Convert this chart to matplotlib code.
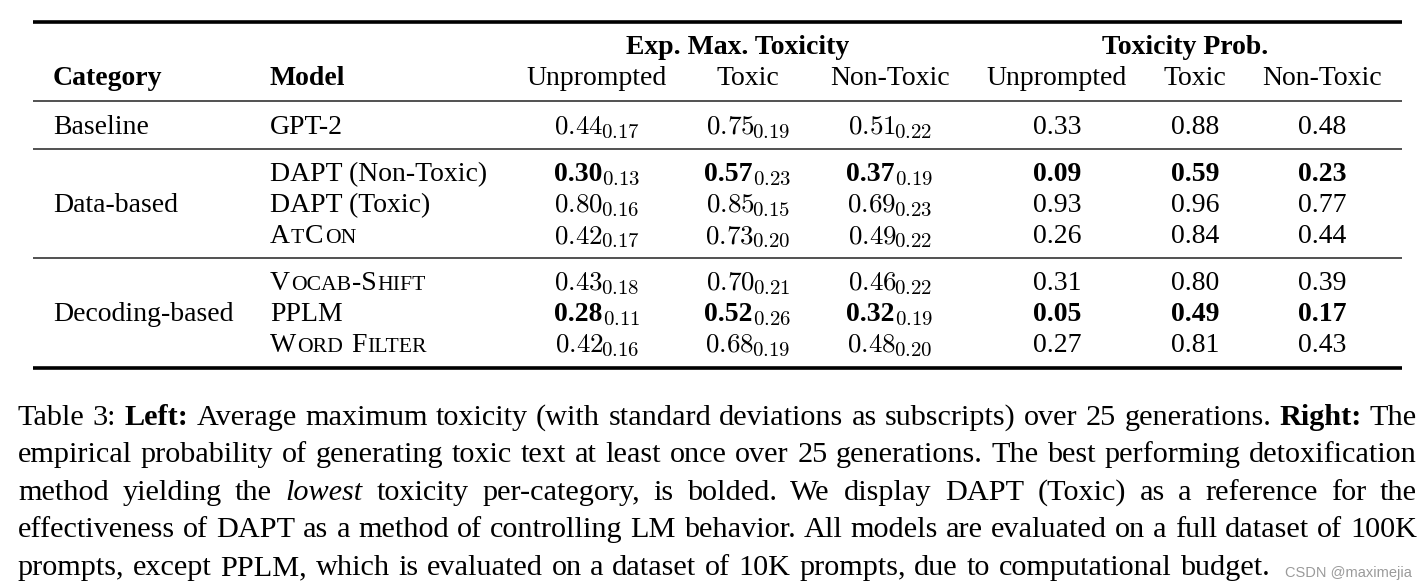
import matplotlib
matplotlib.use('Agg')
import matplotlib.pyplot as plt

plt.rcParams['mathtext.fontset'] = 'cm'
SERIF = 'Liberation Serif'

# ---------------- data ----------------
categories = ['Baseline', 'Data-based', 'Decoding-based']
category_members = [[0], [1, 2, 3], [4, 5, 6]]
models = ['GPT-2', 'DAPT (Non-Toxic)', 'DAPT (Toxic)', 'AtCon',
          'Vocab-Shift', 'PPLM', 'Word Filter']
smallcaps = [False, False, False, True, True, False, True]
emt_unprompted = [0.44, 0.30, 0.80, 0.42, 0.43, 0.28, 0.42]
emt_unprompted_sd = [0.17, 0.13, 0.16, 0.17, 0.18, 0.11, 0.16]
emt_toxic = [0.75, 0.57, 0.85, 0.73, 0.70, 0.52, 0.68]
emt_toxic_sd = [0.19, 0.23, 0.15, 0.20, 0.21, 0.26, 0.19]
emt_nontoxic = [0.51, 0.37, 0.69, 0.49, 0.46, 0.32, 0.48]
emt_nontoxic_sd = [0.22, 0.19, 0.23, 0.22, 0.22, 0.19, 0.20]
tp_unprompted = [0.33, 0.09, 0.93, 0.26, 0.31, 0.05, 0.27]
tp_toxic = [0.88, 0.59, 0.96, 0.84, 0.80, 0.49, 0.81]
tp_nontoxic = [0.48, 0.23, 0.77, 0.44, 0.39, 0.17, 0.43]
bold_rows = [1, 5]
group_headers = ['Exp. Max. Toxicity', 'Toxicity Prob.']
sub_headers = ['Unprompted', 'Toxic', 'Non-Toxic']
col_headers = ['Category', 'Model']

caption_lines = [
    [("Table 3: ", 'r'), ("Left:", 'b'),
     (" Average maximum toxicity (with standard deviations as subscripts) over 25 generations. ", 'r'),
     ("Right:", 'b'), (" The", 'r')],
    [("empirical probability of generating toxic text at least once over 25 generations. The best performing detoxification", 'r')],
    [("method yielding the ", 'r'), ("lowest", 'i'),
     (" toxicity per-category, is bolded. We display DAPT (Toxic) as a reference for the", 'r')],
    [("effectiveness of DAPT as a method of controlling LM behavior. All models are evaluated on a full dataset of 100K", 'r')],
    [("prompts, except PPLM, which is evaluated on a dataset of 10K prompts, due to computational budget.", 'r')],
]
caption_justify = [True, True, True, True, False]
watermark = 'CSDN @maximejia'

# ---------------- layout ----------------
W, H = 1427, 588
fig = plt.figure(figsize=(W / 100, H / 100), dpi=100)
fig.patch.set_facecolor('white')
ax = fig.add_axes([0, 0, 1, 1])
ax.set_xlim(0, W)
ax.set_ylim(H, 0)
ax.axis('off')
renderer = fig.canvas.get_renderer()

FS = 20.0       # table font size
MFS = 19.5      # math digits size
SUB = 15.0      # subscript size
CFS = 21.8      # caption size


def width_of(t):
    return t.get_window_extent(renderer).width


def place_runs(x, y, parts, ha='left'):
    texts, widths = [], []
    for s, kw, dy, gap in parts:
        t = ax.text(0, y + dy, s, va='baseline', ha='left', **kw)
        texts.append(t)
        widths.append(width_of(t) + gap)
    total = sum(widths)
    cur = x - total / 2 if ha == 'center' else x
    for t, w in zip(texts, widths):
        t.set_x(cur)
        cur += w
    return total


def smallcaps_parts(text, size, weight='normal'):
    parts = []
    space = size * 100 / 72 * 0.25
    words = text.split(' ')
    for wi, word in enumerate(words):
        groups = []
        for ch in word:
            small = ch.islower()
            if groups and groups[-1][1] == small:
                groups[-1][0] += ch
            else:
                groups.append([ch, small])
        for gi, (g, small) in enumerate(groups):
            gap = 1.0
            if gi == len(groups) - 1 and wi < len(words) - 1:
                gap = space + 1.0
            parts.append((g.upper(), dict(family=SERIF, fontsize=size * (0.78 if small else 1.0),
                                          weight=weight), 0, gap))
    return parts


# rules
x0, x1 = 33, 1402
ax.hlines(22, x0, x1, color='black', lw=2.6)
ax.hlines(101, x0, x1, color='#222222', lw=1.1)
ax.hlines(149, x0, x1, color='#222222', lw=1.1)
ax.hlines(258, x0, x1, color='#222222', lw=1.1)
ax.hlines(368, x0, x1, color='black', lw=2.6)

# header
cat_x, model_x = 53, 270
col_centers = [597, 748, 890, 1057, 1195, 1322]
group_centers = [738, 1185]
hdr1_y, hdr2_y = 54, 85
ax.text(cat_x, hdr2_y, col_headers[0], family=SERIF, weight='bold', fontsize=FS, va='baseline')
ax.text(model_x, hdr2_y, col_headers[1], family=SERIF, weight='bold', fontsize=FS, va='baseline')
for gc, gh in zip(group_centers, group_headers):
    ax.text(gc, hdr1_y, gh, family=SERIF, weight='bold', fontsize=FS, va='baseline', ha='center')
for i, cx in enumerate(col_centers):
    ax.text(cx, hdr2_y, sub_headers[i % 3], family=SERIF, fontsize=FS, va='baseline', ha='center')

# body
row_base = [134, 181, 212, 243, 290, 321, 352]
for cat, members in zip(categories, category_members):
    yb = sum(row_base[m] for m in members) / len(members)
    ax.text(cat_x, yb, cat, family=SERIF, fontsize=FS, va='baseline')

emt = [(emt_unprompted, emt_unprompted_sd), (emt_toxic, emt_toxic_sd),
       (emt_nontoxic, emt_nontoxic_sd)]
tp = [tp_unprompted, tp_toxic, tp_nontoxic]
for r, name in enumerate(models):
    yb = row_base[r]
    bold = r in bold_rows
    if smallcaps[r]:
        place_runs(model_x, yb, smallcaps_parts(name, FS))
    else:
        ax.text(model_x, yb, name, family=SERIF, fontsize=FS, va='baseline')
    for c, (vals, sds) in enumerate(emt):
        if bold:
            main = (f"{vals[r]:.2f}", dict(family=SERIF, weight='bold', fontsize=FS), 0, 0.5)
        else:
            main = (f"${vals[r]:.2f}$", dict(fontsize=MFS), 0, -2.0)
        sub = (f"${sds[r]:.2f}$", dict(fontsize=SUB), 4, 0)
        place_runs(col_centers[c], yb, [main, sub], ha='center')
    for c, vals in enumerate(tp):
        ax.text(col_centers[3 + c], yb, f"{vals[r]:.2f}", family=SERIF, fontsize=FS,
                weight='bold' if bold else 'normal', va='baseline', ha='center')

# caption
cap_x0, cap_x1 = 18, 1417
cap_base = [425, 462, 500, 537, 575]
style_kw = {'r': dict(), 'b': dict(weight='bold'), 'i': dict(style='italic')}
for line, just, yb in zip(caption_lines, caption_justify, cap_base):
    words = []
    for seg, st in line:
        for w in seg.split():
            words.append((w, st))
    texts, widths = [], []
    for w, st in words:
        t = ax.text(0, yb, w, family=SERIF, fontsize=CFS, va='baseline', ha='left', **style_kw[st])
        texts.append(t)
        widths.append(width_of(t))
    if just:
        gap = (cap_x1 - cap_x0 - sum(widths)) / (len(words) - 1)
    else:
        gap = CFS * 100 / 72 * 0.25 + 1
    cur = cap_x0
    for t, w in zip(texts, widths):
        t.set_x(cur)
        cur += w + gap

ax.text(1412, 577, watermark, family='Liberation Sans', fontsize=10.5, color='#9a9a9a',
        va='baseline', ha='right')

fig.savefig('out.png', dpi=100, facecolor='white')
